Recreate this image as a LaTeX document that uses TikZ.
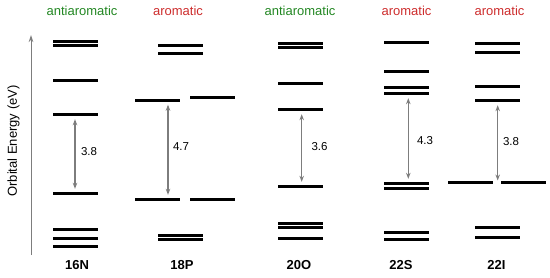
\documentclass[tikz,border=0pt]{standalone}
\usepackage{fontspec}
\setmainfont{Liberation Sans}
\usetikzlibrary{arrows.meta}
\definecolor{antigreen}{RGB}{35,135,35}
\definecolor{aromred}{RGB}{205,45,45}
\definecolor{gapgray}{RGB}{125,125,125}
\begin{document}
\begin{tikzpicture}[x=1pt,y=-1pt,
  lvl/.style={fill=black, inner sep=0pt, minimum width=45pt, minimum height=3pt},
  gap/.style={draw=gapgray, line width=1.3pt, {Stealth[length=6pt,width=4.5pt]}-{Stealth[length=6pt,width=4.5pt]}, shorten <=3pt, shorten >=3pt},
  axis/.style={draw=gapgray, line width=1pt, -{Stealth[length=7pt,width=4.5pt]}},
  head/.style={font=\fontsize{13}{15}\selectfont},
  molname/.style={font=\fontsize{13}{15}\selectfont\bfseries},
  eval/.style={font=\fontsize{11.5}{13}\selectfont}]
\useasboundingbox (0,0) rectangle (550,277);
\coordinate (axb) at (31,255);
\coordinate (axt) at (31,35);
\draw[axis] (axb) -- (axt);
\node[head, rotate=90] (ylab) at (13.5,141) {Orbital Energy (eV)};
\node[head, text=antigreen] (hn) at (82,11) {antiaromatic};
\node[head, text=aromred] (hp) at (178,11) {aromatic};
\node[head, text=antigreen] (ho) at (300,11) {antiaromatic};
\node[head, text=aromred] (hs) at (406.5,11) {aromatic};
\node[head, text=aromred] (hi) at (499.5,11) {aromatic};
\node[lvl] (n1) at (75.5,41) {};
\node[lvl] (n2) at (75.5,45) {};
\node[lvl] (n3) at (75.5,80) {};
\node[lvl] (nL) at (75.5,114.5) {};
\node[lvl] (nH) at (75.5,193.5) {};
\node[lvl] (n4) at (75.5,229.5) {};
\node[lvl] (n5) at (75.5,238) {};
\node[lvl] (n6) at (75.5,246.5) {};
\node[lvl] (p1) at (180.5,45) {};
\node[lvl] (p2) at (180.5,53.5) {};
\node[lvl] (pL) at (157.5,100) {};
\node[lvl] (p3) at (212.5,97) {};
\node[lvl] (pH) at (157.5,199.5) {};
\node[lvl] (p4) at (212.5,199.5) {};
\node[lvl] (p5) at (180.5,235) {};
\node[lvl] (p6) at (180.5,239) {};
\node[lvl] (o1) at (300.5,43) {};
\node[lvl] (o2) at (300.5,47) {};
\node[lvl] (o3) at (300.5,83.5) {};
\node[lvl] (oL) at (300.5,109.5) {};
\node[lvl] (oH) at (300.5,186.5) {};
\node[lvl] (o4) at (300.5,223) {};
\node[lvl] (o5) at (300.5,227.5) {};
\node[lvl] (o6) at (300.5,238.5) {};
\node[lvl] (s1) at (406,42.5) {};
\node[lvl] (s2) at (406,71) {};
\node[lvl] (s3) at (406,87.5) {};
\node[lvl] (sL) at (406,93.5) {};
\node[lvl] (sH) at (406,183.5) {};
\node[lvl] (s4) at (406,188.5) {};
\node[lvl] (s5) at (406,232) {};
\node[lvl] (s6) at (406,239.5) {};
\node[lvl] (i1) at (497.5,43.5) {};
\node[lvl] (i2) at (497.5,52) {};
\node[lvl] (i3) at (497.5,86) {};
\node[lvl] (iL) at (497.5,100.5) {};
\node[lvl] (iH) at (470.5,182.5) {};
\node[lvl] (i4) at (523.7,182.5) {};
\node[lvl] (i5) at (497.5,227) {};
\node[lvl] (i6) at (497.5,237.5) {};
\coordinate (igap) at (497.7,182.5);
\draw[gap] ([xshift=-0.5pt]nL.south) -- ([xshift=-0.5pt]nH.north);
\draw[gap] ([xshift=10.5pt]pL.south) -- ([xshift=10.5pt]pH.north);
\draw[gap] ([xshift=1.2pt]oL.south) -- ([xshift=1.2pt]oH.north);
\draw[gap] ([xshift=2.3pt]sL.south) -- ([xshift=2.3pt]sH.north);
\draw[gap, shorten >=2pt] ([xshift=0.2pt]iL.south) -- (igap);
\node[eval] (en) at (89,152) {3.8};
\node[eval] (ep) at (181,147) {4.7};
\node[eval] (eo) at (319.5,147) {3.6};
\node[eval] (es) at (425,141) {4.3};
\node[eval] (ei) at (511,142) {3.8};
\node[molname] (mn) at (77,265) {16N};
\node[molname] (mp) at (182,265) {18P};
\node[molname] (mo) at (299,265) {20O};
\node[molname] (ms) at (401,265) {22S};
\node[molname] (mi) at (496.5,265) {22I};
\end{tikzpicture}
\end{document}
